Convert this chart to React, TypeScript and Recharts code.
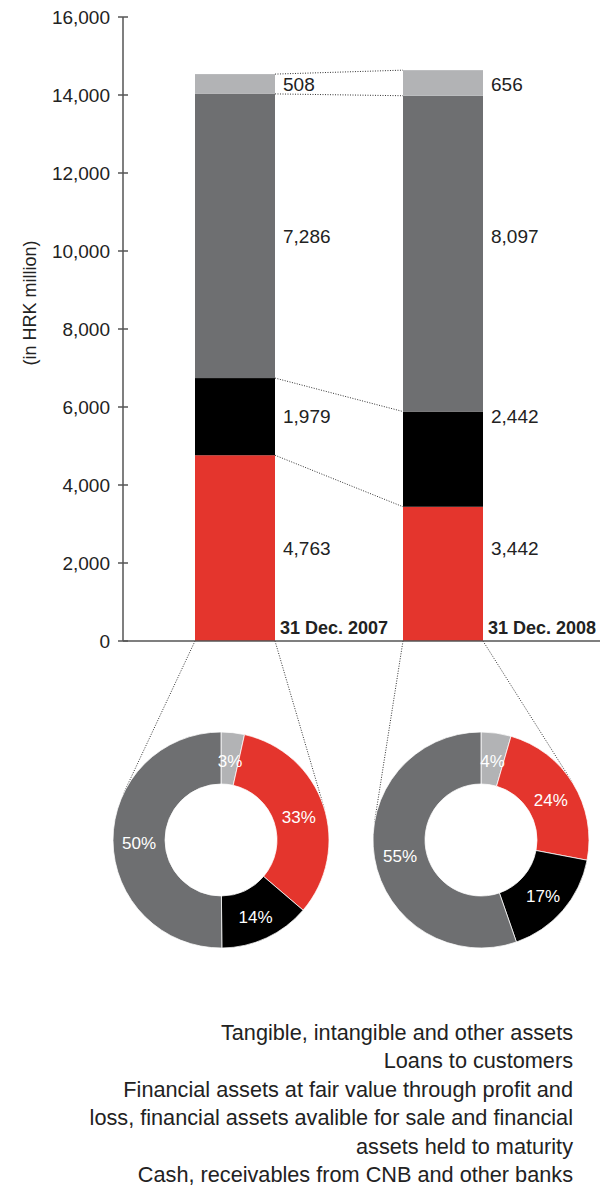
import { BarChart, Bar, XAxis, YAxis, LabelList, Label, PieChart, Pie, Cell } from "recharts";

const dates = ["31 Dec. 2007", "31 Dec. 2008"];
const cash = [4763, 3442];
const financial = [1979, 2442];
const loans = [7286, 8097];
const tangible = [508, 656];
const yTicks = [0, 2000, 4000, 6000, 8000, 10000, 12000, 14000, 16000];
const legendLabels = [
  "Tangible, intangible and other assets",
  "Loans to customers",
  "Financial assets at fair value through profit and\nloss, financial assets avalible for sale and financial\nassets held to maturity",
  "Cash, receivables from CNB and other banks",
];

const RED = "#e4352d";
const BLACK = "#000000";
const DARK = "#6e6f71";
const LIGHT = "#b2b3b5";
const INK = "#222";
const FONT = '"Liberation Sans", Arial, sans-serif';

// stack order, bottom to top
const keys = ["cash", "financial", "loans", "tangible"] as const;
type Key = (typeof keys)[number];
const colors: Record<Key, string> = { cash: RED, financial: BLACK, loans: DARK, tangible: LIGHT };

const rows = dates.map((date, i) => ({
  date,
  cash: cash[i],
  financial: financial[i],
  loans: loans[i],
  tangible: tangible[i],
}));

// donut slices go clockwise from 12 o'clock
const pieOrder: Key[] = ["tangible", "cash", "financial", "loans"];
const pies = rows.map((r) => pieOrder.map((k) => ({ name: k, value: r[k] })));

// layout
const W = 602;
const BAR_CHART_H = 900;
const MARGIN = { top: 17, right: 2, bottom: 258, left: 0 };
const Y_W = 123;
const PAD = { left: 8, right: 53 };
const BAR_SIZE = 80;
const STEP = (W - MARGIN.left - MARGIN.right - Y_W - PAD.left - PAD.right) / dates.length;

const PIE_TOP = 720;
const PIE_H = 240;
const PIE_CX = [221, 481];
const PIE_CY = 120;
const R_OUT = 108;
const R_IN = 56;

const dotted = { stroke: "#333", strokeWidth: 1, strokeDasharray: "1 1.5" };

function tangent(px: number, py: number, cx: number, cy: number, r: number, side: number) {
  const dx = cx - px;
  const dy = cy - py;
  const d = Math.hypot(dx, dy);
  const t = Math.atan2(dy, dx) + side * Math.asin(r / d);
  const len = Math.sqrt(d * d - r * r);
  return [px + len * Math.cos(t), py + len * Math.sin(t)];
}

const stackTop = (row: any, k: number) => keys.slice(0, k + 1).reduce((s, kk) => s + row[kk], 0);

const segmentShape = (key: Key) => (props: any) => {
  const { x, y, width, height, index } = props;
  const k = keys.indexOf(key);
  const row = rows[index];
  const s = height / row[key];
  const base = y + stackTop(row, k) * s;
  const extras = [];

  if (index > 0) {
    const prevY = base - stackTop(rows[index - 1], k) * s;
    extras.push(<line key="c" x1={x - (STEP - width)} y1={prevY} x2={x} y2={y} {...dotted} />);
  }
  if (key === "cash") {
    const cx = PIE_CX[index];
    const cy = PIE_TOP + PIE_CY;
    const [lx, ly] = tangent(x, base, cx, cy, R_OUT, 1);
    const [rx, ry] = tangent(x + width, base, cx, cy, R_OUT, -1);
    extras.push(<line key="l" x1={x} y1={base} x2={lx} y2={ly} {...dotted} />);
    extras.push(<line key="r" x1={x + width} y1={base} x2={rx} y2={ry} {...dotted} />);
  }
  return (
    <g>
      <rect x={x} y={y} width={width} height={height} fill={colors[key]} />
      {extras}
    </g>
  );
};

// value labels sit beside each bar, level with the middle of the 2007 segment
const valueLabel = (key: Key) => (props: any) => {
  const { x, y, width, height, index, value } = props;
  const k = keys.indexOf(key);
  const row = rows[index];
  const s = height / row[key];
  const base = y + stackTop(row, k) * s;
  const first = rows[0];
  const ly = base - (stackTop(first, k) - first[key] / 2) * s;
  return (
    <text x={x + width + 8} y={ly} dy="0.36em" fill={INK} fontSize={19}>
      {Number(value).toLocaleString("en-US")}
    </text>
  );
};

const YTick = ({ x, y, payload }: any) => (
  <g>
    <line x1={x + 8} x2={x + 18} y1={y} y2={y} stroke="#555" strokeWidth={1.5} />
    <text x={x} y={y} dy="0.36em" textAnchor="end" fill={INK} fontSize={19}>
      {payload.value.toLocaleString("en-US")}
    </text>
  </g>
);

const XTick = ({ x, y, payload }: any) => (
  <text x={x + BAR_SIZE / 2 + 5} y={y - 7} fill={INK} fontSize={18} fontWeight="bold">
    {payload.value}
  </text>
);

const RAD = Math.PI / 180;
const pieLabel = ({ cx, cy, midAngle, innerRadius, outerRadius, percent }: any) => {
  const r = (innerRadius + outerRadius) / 2;
  const lx = cx + r * Math.cos(-midAngle * RAD);
  const ly = cy + r * Math.sin(-midAngle * RAD);
  return (
    <text x={lx} y={ly + 3} fill="#fff" fontSize={17} textAnchor="middle" dominantBaseline="central">
      {Math.round(percent * 100)}%
    </text>
  );
};

export default function App() {
  return (
    <div style={{ position: "absolute", left: 0, top: 0, width: W, height: 1196, fontFamily: FONT, background: "#fff" }}>
      <div style={{ position: "absolute", left: 0, top: 0 }}>
        <BarChart width={W} height={BAR_CHART_H} data={rows} margin={MARGIN} barSize={BAR_SIZE}>
          <XAxis
            dataKey="date"
            padding={PAD}
            height={1}
            interval={0}
            tickSize={0}
            tickMargin={0}
            tickLine={false}
            axisLine={{ stroke: "#555", strokeWidth: 1.5 }}
            tick={(p: any) => <XTick {...p} />}
          />
          <YAxis
            width={Y_W}
            domain={[0, 16000]}
            ticks={yTicks}
            interval={0}
            tickSize={0}
            tickMargin={13}
            tickLine={false}
            axisLine={{ stroke: "#555", strokeWidth: 1.5 }}
            tick={<YTick />}
          >
            <Label
              content={({ viewBox }: any) => (
                <text
                  transform={`translate(${viewBox.x + 30}, ${viewBox.y + viewBox.height / 2 - 26}) rotate(-90)`}
                  textAnchor="middle"
                  dominantBaseline="central"
                  fill={INK}
                  fontSize={18}
                >
                  (in HRK million)
                </text>
              )}
            />
          </YAxis>
          {keys.map((k) => (
            <Bar key={k} dataKey={k} stackId="a" fill={colors[k]} shape={segmentShape(k)} isAnimationActive={false}>
              <LabelList dataKey={k} content={valueLabel(k)} />
            </Bar>
          ))}
        </BarChart>
      </div>

      <div style={{ position: "absolute", left: 0, top: PIE_TOP }}>
        <PieChart width={W} height={PIE_H} margin={{ top: 0, right: 0, bottom: 0, left: 0 }}>
          {pies.map((data, i) => (
            <Pie
              key={i}
              data={data}
              dataKey="value"
              nameKey="name"
              cx={PIE_CX[i]}
              cy={PIE_CY}
              innerRadius={R_IN}
              outerRadius={R_OUT}
              startAngle={90}
              endAngle={-270}
              stroke="#fff"
              strokeWidth={0.75}
              labelLine={false}
              label={pieLabel}
              isAnimationActive={false}
            >
              {data.map((d) => (
                <Cell key={d.name} fill={colors[d.name]} />
              ))}
            </Pie>
          ))}
        </PieChart>
      </div>

      <div
        style={{
          position: "absolute",
          right: 29,
          top: 1019,
          textAlign: "right",
          fontSize: 21.7,
          lineHeight: "28.4px",
          color: INK,
          whiteSpace: "pre-line",
        }}
      >
        {legendLabels.map((t) => (
          <div key={t}>{t}</div>
        ))}
      </div>
    </div>
  );
}
